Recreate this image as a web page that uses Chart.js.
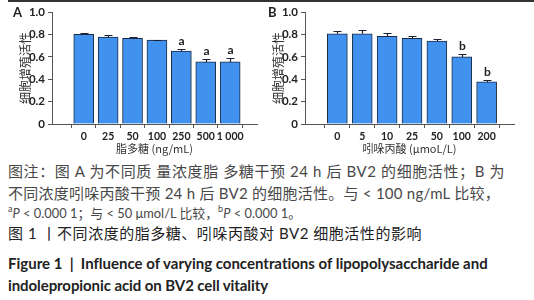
<!DOCTYPE html>
<html><head><meta charset="utf-8">
<script src="https://cdn.jsdelivr.net/npm/chart.js@4"></script>
<style>
html,body{margin:0;padding:0;background:#fff;}
body{width:534px;height:300px;position:relative;overflow:hidden;}
.topline{position:absolute;left:8px;top:0;width:526px;height:2px;background:#333;}
.panel{position:absolute;top:0;}
.plabel{position:absolute;font:bold 13px Lato,"Liberation Sans",sans-serif;color:#222;line-height:14px;}
.cap{position:absolute;left:8px;white-space:nowrap;font-family:Lato,"Noto Sans CJK SC",sans-serif;font-size:15px;line-height:20px;color:#484848;}
.cap.t{color:#222;}
.cap.e{font-weight:bold;color:#222;}
sup{font-size:9px;vertical-align:6px;line-height:0;}
</style></head><body>
<div class="topline"></div>
<div class="panel" style="left:0;width:262px;height:158px;"><canvas id="cA" width="262" height="158"></canvas></div>
<div class="panel" style="left:253px;width:266px;height:158px;"><canvas id="cB" width="266" height="158"></canvas></div>
<div class="plabel" style="left:13px;top:5px;">A</div>
<div class="plabel" style="left:268px;top:5px;">B</div>

<div class="cap" data-w="497" style="top:161px;">图注：图 A 为不同质 量浓度脂 多糖干预 24 h 后 BV2 的细胞活性；B 为</div>
<div class="cap" data-w="492" style="top:183px;">不同浓度吲哚丙酸干预 24 h 后 BV2 的细胞活性。与 &lt; 100 ng/mL 比较，</div>
<div class="cap" data-w="292" style="top:203px;"><sup>a</sup><i>P</i> &lt; 0.000 1；与 &lt; 50 μmol/L 比较，<sup>b</sup><i>P</i> &lt; 0.000 1。</div>
<div class="cap t" data-w="414" style="top:223px;">图 1 丨不同浓度的脂多糖、吲哚丙酸对 BV2 细胞活性的影响</div>
<div class="cap e" data-w="480" style="top:253px;">Figure 1 &nbsp;|&nbsp; Influence of varying concentrations of lipopolysaccharide and</div>
<div class="cap e" data-w="260" style="top:275px;">indolepropionic acid on BV2 cell vitality</div>

<script>
// ---- data ----
const lpsLabels = ['0', '25', '50', '100', '250', '500', '1 000'];
const lpsMean   = [0.800, 0.776, 0.764, 0.750, 0.652, 0.554, 0.554];
const lpsErr    = [0.015, 0.021, 0.009, 0.004, 0.021, 0.024, 0.036];
const lpsSig    = ['', '', '', '', 'a', 'a', 'a'];

const ipaLabels = ['0', '5', '10', '25', '50', '100', '200'];
const ipaMean   = [0.806, 0.806, 0.782, 0.764, 0.741, 0.599, 0.376];
const ipaErr    = [0.021, 0.030, 0.030, 0.024, 0.017, 0.026, 0.015];
const ipaSig    = ['', '', '', '', '', 'b', 'b'];

const yTicks = [0, 0.2, 0.4, 0.6, 0.8, 1.0];
const yTitle = '细胞增殖活性';
const titleA = '脂多糖 (ng/mL)';
const titleB = '吲哚丙酸 (μmoL/L)';

// fit caption lines to their widths
document.querySelectorAll('.cap').forEach(el => {
  const target = +el.dataset.w;
  const n = el.textContent.length;
  const w = el.getBoundingClientRect().width;
  let ls = (target - w) / n;
  if (ls < -0.3) { // too wide: shrink font instead
    const fs = 15 * target / w;
    el.style.fontSize = fs.toFixed(2) + 'px';
    ls = 0;
  }
  el.style.letterSpacing = ls.toFixed(3) + 'px';
});

const FONT = 'Lato, "Liberation Sans", sans-serif';
const CJK = '"Noto Sans CJK SC", sans-serif';

const errPlugin = {
  id: 'errbars',
  afterDatasetsDraw(chart) {
    const ds = chart.data.datasets[0];
    const xs = chart.scales.x, ys = chart.scales.y;
    const ctx = chart.ctx;
    ctx.save();
    ctx.strokeStyle = '#1b2233';
    ctx.lineWidth = 1.2;
    ctx.fillStyle = '#222';
    ctx.font = 'bold 12px ' + FONT;
    ctx.textAlign = 'center';
    ctx.textBaseline = 'bottom';
    ds.data.forEach((p, i) => {
      const x = Math.round(xs.getPixelForValue(p.x)) + 0.5;
      const y0 = ys.getPixelForValue(p.y);
      const y1 = Math.round(ys.getPixelForValue(p.y + ds.errs[i])) + 0.5;
      ctx.beginPath();
      ctx.moveTo(x, y0); ctx.lineTo(x, y1);
      ctx.moveTo(x - 4, y1); ctx.lineTo(x + 4, y1);
      ctx.stroke();
      if (ds.sig[i]) ctx.fillText(ds.sig[i], x, y1 - 2);
    });
    ctx.restore();
  }
};

function makeChart(id, labels, mean, err, sig, xTitle, rightPad) {
  return new Chart(document.getElementById(id), {
    type: 'bar',
    data: {
      datasets: [{
        data: mean.map((v, i) => ({ x: i, y: v })),
        errs: err, sig: sig,
        backgroundColor: '#4191ee',
        borderColor: '#1d2a44',
        borderWidth: 1,
        barThickness: 20
      }]
    },
    plugins: [errPlugin],
    options: {
      responsive: false,
      animation: false,
      layout: { padding: { top: 12, right: rightPad, left: 0, bottom: 0 } },
      plugins: { legend: { display: false }, tooltip: { enabled: false } },
      scales: {
        x: {
          type: 'linear', min: -0.7, max: 6.5,
          afterBuildTicks: s => { s.ticks = labels.map((_, i) => ({ value: i })); },
          ticks: { callback: (v, i) => labels[i], autoSkip: false, maxRotation: 0,
                   font: { family: FONT, size: 10.5, weight: 'bold' }, color: '#222', padding: 2 },
          grid: { display: true, drawOnChartArea: false, drawTicks: true, tickLength: 4, color: '#555' },
          border: { display: true, color: '#555', width: 1 },
          title: { display: true, text: xTitle, font: { family: CJK, size: 11 }, color: '#333',
                   padding: { top: 2, bottom: 3 } },
          afterFit: s => { s.height = 34; }
        },
        y: {
          min: 0, max: 1,
          afterBuildTicks: s => { s.ticks = yTicks.map(v => ({ value: v })); },
          ticks: { callback: v => v === 0 ? '0' : v.toFixed(1),
                   font: { family: FONT, size: 11.5, weight: 'bold' }, color: '#222', padding: 3 },
          grid: { display: true, drawOnChartArea: false, drawTicks: true, tickLength: 4, color: '#555' },
          border: { display: true, color: '#555', width: 1 },
          title: { display: true, text: yTitle, font: { family: CJK, size: 12 }, color: '#333',
                   padding: { top: 18, bottom: 0 } },
          afterFit: s => { s.width = 52; }
        }
      }
    }
  });
}

makeChart('cA', lpsLabels, lpsMean, lpsErr, lpsSig, titleA, 5);
makeChart('cB', ipaLabels, ipaMean, ipaErr, ipaSig, titleB, 5);
</script>
</body></html>
